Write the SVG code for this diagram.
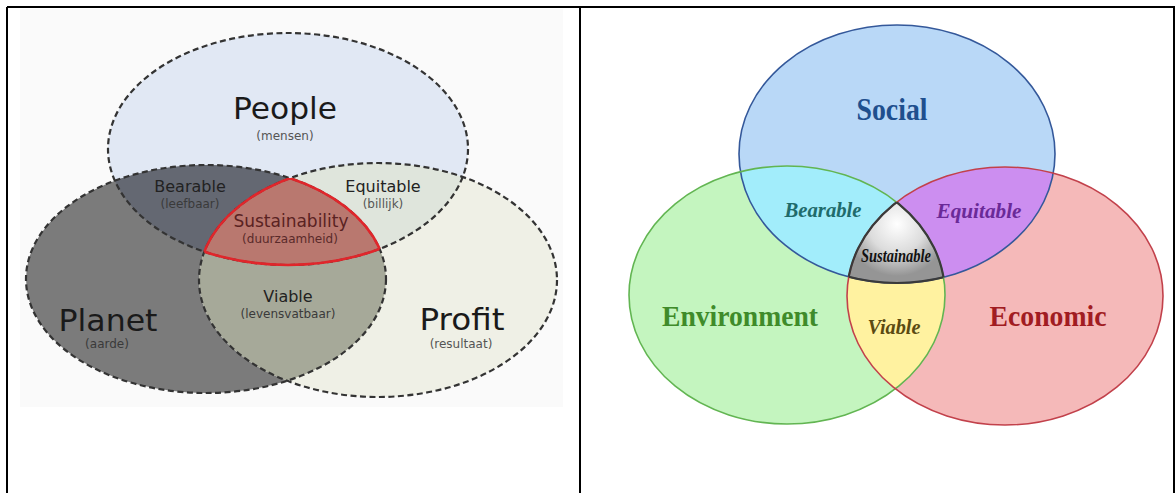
<svg xmlns="http://www.w3.org/2000/svg" width="1175" height="493" viewBox="0 0 1175 493">
<style>
.dash{fill:none;stroke:#333;stroke-width:2.2;stroke-dasharray:6 3.5}
.red{fill:none;stroke:#e0262b;stroke-width:2.6}
.sans{font-family:"DejaVu Sans","Verdana",sans-serif;text-anchor:middle}
.big{font-size:30px;fill:#1a1a1a}
.mid{font-size:16px;fill:#222}
.sub{font-size:12px;fill:#555}
.serif{font-family:"Liberation Serif","Times New Roman",serif;font-weight:bold;text-anchor:middle}
.it{font-style:italic}
.border{stroke:#000;stroke-width:2;fill:none}
</style>
<defs>
<clipPath id="cPeople"><ellipse cx="288" cy="149" rx="180" ry="116"/></clipPath>
<clipPath id="cPlanet"><ellipse cx="206" cy="279" rx="180" ry="114"/></clipPath>
<clipPath id="cProfit"><ellipse cx="378" cy="280" rx="179" ry="117"/></clipPath>
<clipPath id="cSocial"><ellipse cx="897" cy="154" rx="158" ry="129"/></clipPath>
<clipPath id="cEnv"><ellipse cx="787" cy="295" rx="158" ry="129"/></clipPath>
<clipPath id="cEcon"><ellipse cx="1005" cy="296" rx="158" ry="129"/></clipPath>
<radialGradient id="gSus" gradientUnits="userSpaceOnUse" cx="897" cy="224" r="52">
<stop offset="0" stop-color="#ffffff"/>
<stop offset="0.55" stop-color="#dcdcdc"/>
<stop offset="1" stop-color="#959595"/>
</radialGradient>
</defs>

<g id="table">
<line class="border" x1="7" y1="7" x2="1175" y2="7"/>
<line class="border" x1="7" y1="7" x2="7" y2="493"/>
<line class="border" x1="580" y1="7" x2="580" y2="493"/>
<line class="border" x1="1174" y1="7" x2="1174" y2="493"/>
</g>

<g id="left-panel">
<rect x="20" y="9" width="543" height="398" fill="#fafafa"/>
</g>

<g id="people">
<ellipse cx="288" cy="149" rx="180" ry="116" fill="#e1e8f4"/>
</g>
<g id="planet">
<ellipse cx="206" cy="279" rx="180" ry="114" fill="#7b7b7b"/>
</g>
<g id="profit">
<ellipse cx="378" cy="280" rx="179" ry="117" fill="#eff0e6"/>
</g>
<g id="bearable">
<g clip-path="url(#cPlanet)"><ellipse cx="288" cy="149" rx="180" ry="116" fill="#646872"/></g>
</g>
<g id="equitable">
<g clip-path="url(#cProfit)"><ellipse cx="288" cy="149" rx="180" ry="116" fill="#dfe5dc"/></g>
</g>
<g id="viable">
<g clip-path="url(#cProfit)"><ellipse cx="206" cy="279" rx="180" ry="114" fill="#a6a999"/></g>
</g>
<g id="sustainability">
<g clip-path="url(#cPlanet)"><g clip-path="url(#cProfit)"><ellipse cx="288" cy="149" rx="180" ry="116" fill="#b9786f"/></g></g>
</g>
<g id="left-outlines">
<ellipse class="dash" cx="288" cy="149" rx="180" ry="116"/>
<ellipse class="dash" cx="206" cy="279" rx="180" ry="114"/>
<ellipse class="dash" cx="378" cy="280" rx="179" ry="117"/>
<g clip-path="url(#cPlanet)"><g clip-path="url(#cProfit)"><ellipse class="red" cx="288" cy="149" rx="180" ry="116"/></g></g>
<g clip-path="url(#cPeople)"><g clip-path="url(#cProfit)"><ellipse class="red" cx="206" cy="279" rx="180" ry="114"/></g></g>
<g clip-path="url(#cPeople)"><g clip-path="url(#cPlanet)"><ellipse class="red" cx="378" cy="280" rx="179" ry="117"/></g></g>
</g>
<g id="left-labels" class="sans">
<text class="big" x="285" y="119" textLength="104" lengthAdjust="spacingAndGlyphs">People</text>
<text class="sub" x="285" y="140">(mensen)</text>
<text class="mid" x="190" y="192">Bearable</text>
<text class="sub" x="190" y="208" style="fill:#3a3a3a">(leefbaar)</text>
<text class="mid" x="383" y="192">Equitable</text>
<text class="sub" x="383" y="208">(billijk)</text>
<text class="mid" x="291" y="227" style="fill:#5a2222;font-size:17px">Sustainability</text>
<text class="sub" x="290" y="243" style="fill:#5a2a2a">(duurzaamheid)</text>
<text class="mid" x="288" y="302">Viable</text>
<text class="sub" x="288" y="318" style="fill:#3a3a3a">(levensvatbaar)</text>
<text class="big" x="108" y="331" textLength="99" lengthAdjust="spacingAndGlyphs">Planet</text>
<text class="sub" x="107" y="348" style="fill:#3a3a3a">(aarde)</text>
<text class="big" x="462" y="330" textLength="85" lengthAdjust="spacingAndGlyphs">Profit</text>
<text class="sub" x="461" y="348">(resultaat)</text>
</g>

<g id="social">
<ellipse cx="897" cy="154" rx="158" ry="129" fill="#b9d8f7"/>
</g>
<g id="environment">
<ellipse cx="787" cy="295" rx="158" ry="129" fill="#c4f5bf"/>
</g>
<g id="economic">
<ellipse cx="1005" cy="296" rx="158" ry="129" fill="#f5b9b9"/>
</g>
<g id="r-bearable">
<g clip-path="url(#cEnv)"><ellipse cx="897" cy="154" rx="158" ry="129" fill="#a2edfb"/></g>
</g>
<g id="r-equitable">
<g clip-path="url(#cEcon)"><ellipse cx="897" cy="154" rx="158" ry="129" fill="#cc8ef0"/></g>
</g>
<g id="r-viable">
<g clip-path="url(#cEcon)"><ellipse cx="787" cy="295" rx="158" ry="129" fill="#fff2a0"/></g>
</g>
<g id="r-sustainable">
<g clip-path="url(#cEnv)"><g clip-path="url(#cEcon)"><ellipse cx="897" cy="154" rx="158" ry="129" fill="url(#gSus)"/></g></g>
</g>
<g id="right-outlines" fill="none" stroke-width="1.6">
<ellipse cx="897" cy="154" rx="158" ry="129" stroke="#34589a"/>
<ellipse cx="787" cy="295" rx="158" ry="129" stroke="#62b552"/>
<ellipse cx="1005" cy="296" rx="158" ry="129" stroke="#c2414b"/>
<g clip-path="url(#cEnv)"><g clip-path="url(#cEcon)"><ellipse cx="897" cy="154" rx="158" ry="129" stroke="#3a3a3a" stroke-width="2.2"/></g></g>
<g clip-path="url(#cSocial)"><g clip-path="url(#cEcon)"><ellipse cx="787" cy="295" rx="158" ry="129" stroke="#3a3a3a" stroke-width="2.2"/></g></g>
<g clip-path="url(#cSocial)"><g clip-path="url(#cEnv)"><ellipse cx="1005" cy="296" rx="158" ry="129" stroke="#3a3a3a" stroke-width="2.2"/></g></g>
</g>
<g id="right-labels" class="serif">
<text x="892" y="120" font-size="32" fill="#1f4f8e" textLength="71" lengthAdjust="spacingAndGlyphs">Social</text>
<text x="740" y="326" font-size="30" fill="#3f8b2a" textLength="156" lengthAdjust="spacingAndGlyphs">Environment</text>
<text x="1048" y="326" font-size="30" fill="#a11c22" textLength="117" lengthAdjust="spacingAndGlyphs">Economic</text>
<text class="it" x="823" y="217" font-size="21" fill="#1f6b6b" textLength="77" lengthAdjust="spacingAndGlyphs">Bearable</text>
<text class="it" x="979" y="218" font-size="21" fill="#6a2a98" textLength="85" lengthAdjust="spacingAndGlyphs">Equitable</text>
<text class="it" x="896" y="262" font-size="19" fill="#111" textLength="70" lengthAdjust="spacingAndGlyphs">Sustainable</text>
<text class="it" x="894" y="334" font-size="21" fill="#5a4a12" textLength="53" lengthAdjust="spacingAndGlyphs">Viable</text>
</g>
</svg>
